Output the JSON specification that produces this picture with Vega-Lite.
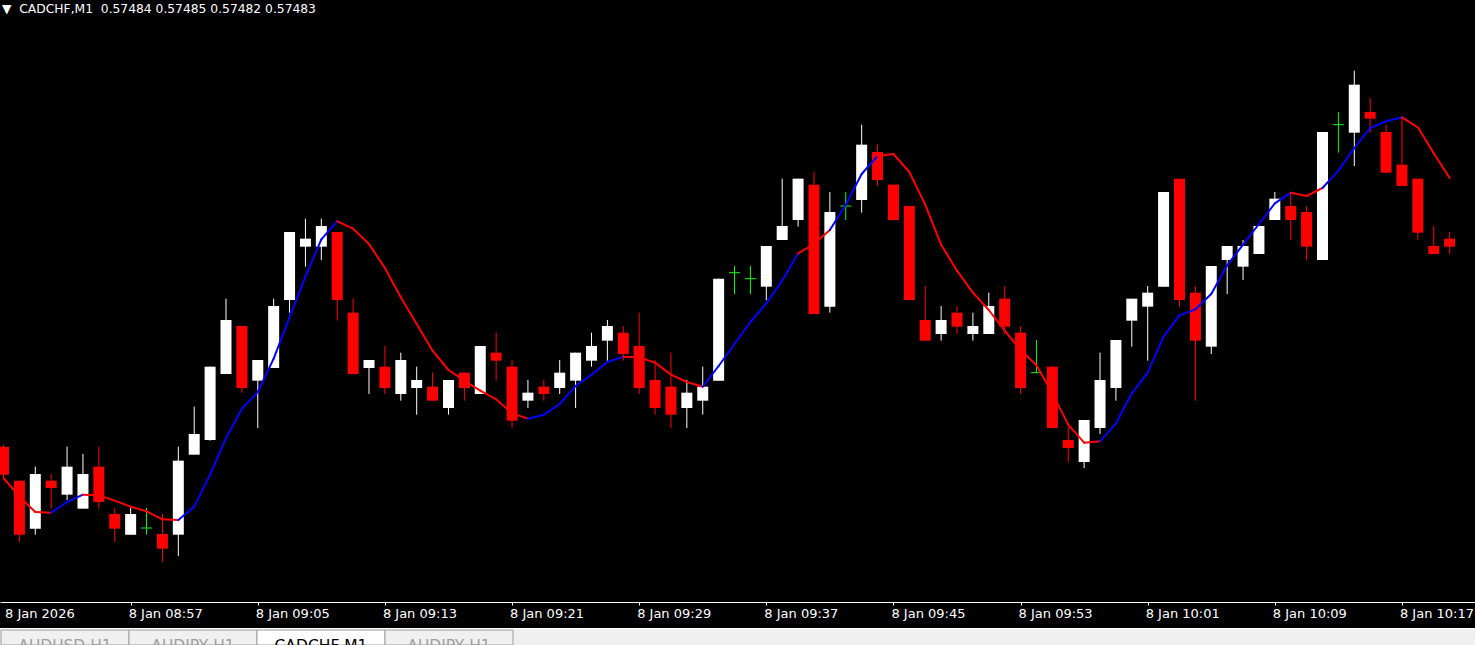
{
  "$schema": "https://vega.github.io/schema/vega-lite/v6.json",
  "autosize": {"type": "pad"},
  "padding": 0,
  "background": "#000000",
  "bounds": "flush",
  "spacing": 26,
  "config": {"view": {"stroke": null}, "font": "DejaVu Sans"},
  "vconcat": [
    {
      "width": 1475,
      "height": 602,
      "title": {
        "text": "▼\u00a0\u00a0CADCHF,M1\u00a0\u00a00.57484 0.57485 0.57482 0.57483",
        "anchor": "start",
        "frame": "group",
        "orient": "top",
        "offset": -13,
        "baseline": "top",
        "dy": 2,
        "dx": 2,
        "font": "DejaVu Sans",
        "fontSize": 12.3,
        "fontWeight": "normal",
        "color": "#ffffff"
      },
      "data": {
        "format": {"parse": {"t": "date"}},
        "values": [
          {"t": "2026-01-08T08:49", "o": 0.574530, "h": 0.574533, "l": 0.574483, "c": 0.574488, "ma": 0.574483, "trend": "down"},
          {"t": "2026-01-08T08:50", "o": 0.574479, "h": 0.574479, "l": 0.574387, "c": 0.574398, "ma": 0.574455, "trend": "down"},
          {"t": "2026-01-08T08:51", "o": 0.574407, "h": 0.574500, "l": 0.574398, "c": 0.574489, "ma": 0.574432, "trend": "down"},
          {"t": "2026-01-08T08:52", "o": 0.574479, "h": 0.574489, "l": 0.574437, "c": 0.574468, "ma": 0.574431, "trend": "down"},
          {"t": "2026-01-08T08:53", "o": 0.574458, "h": 0.574530, "l": 0.574450, "c": 0.574500, "ma": 0.574447, "trend": "up"},
          {"t": "2026-01-08T08:54", "o": 0.574437, "h": 0.574519, "l": 0.574437, "c": 0.574489, "ma": 0.574458, "trend": "up"},
          {"t": "2026-01-08T08:55", "o": 0.574500, "h": 0.574530, "l": 0.574437, "c": 0.574447, "ma": 0.574457, "trend": "down"},
          {"t": "2026-01-08T08:56", "o": 0.574429, "h": 0.574438, "l": 0.574387, "c": 0.574407, "ma": 0.574449, "trend": "down"},
          {"t": "2026-01-08T08:57", "o": 0.574398, "h": 0.574438, "l": 0.574398, "c": 0.574429, "ma": 0.574440, "trend": "down"},
          {"t": "2026-01-08T08:58", "o": 0.574408, "h": 0.574438, "l": 0.574398, "c": 0.574408, "ma": 0.574433, "trend": "down"},
          {"t": "2026-01-08T08:59", "o": 0.574399, "h": 0.574429, "l": 0.574357, "c": 0.574377, "ma": 0.574421, "trend": "down"},
          {"t": "2026-01-08T09:00", "o": 0.574398, "h": 0.574530, "l": 0.574366, "c": 0.574509, "ma": 0.574420, "trend": "down"},
          {"t": "2026-01-08T09:01", "o": 0.574518, "h": 0.574590, "l": 0.574518, "c": 0.574549, "ma": 0.574440, "trend": "up"},
          {"t": "2026-01-08T09:02", "o": 0.574540, "h": 0.574650, "l": 0.574539, "c": 0.574650, "ma": 0.574488, "trend": "up"},
          {"t": "2026-01-08T09:03", "o": 0.574639, "h": 0.574752, "l": 0.574639, "c": 0.574720, "ma": 0.574543, "trend": "up"},
          {"t": "2026-01-08T09:04", "o": 0.574711, "h": 0.574711, "l": 0.574611, "c": 0.574618, "ma": 0.574587, "trend": "up"},
          {"t": "2026-01-08T09:05", "o": 0.574629, "h": 0.574660, "l": 0.574558, "c": 0.574660, "ma": 0.574612, "trend": "up"},
          {"t": "2026-01-08T09:06", "o": 0.574648, "h": 0.574752, "l": 0.574648, "c": 0.574741, "ma": 0.574662, "trend": "up"},
          {"t": "2026-01-08T09:07", "o": 0.574750, "h": 0.574852, "l": 0.574731, "c": 0.574852, "ma": 0.574724, "trend": "up"},
          {"t": "2026-01-08T09:08", "o": 0.574830, "h": 0.574872, "l": 0.574800, "c": 0.574842, "ma": 0.574785, "trend": "up"},
          {"t": "2026-01-08T09:09", "o": 0.574830, "h": 0.574872, "l": 0.574810, "c": 0.574861, "ma": 0.574841, "trend": "up"},
          {"t": "2026-01-08T09:10", "o": 0.574852, "h": 0.574852, "l": 0.574719, "c": 0.574750, "ma": 0.574868, "trend": "up"},
          {"t": "2026-01-08T09:11", "o": 0.574731, "h": 0.574752, "l": 0.574639, "c": 0.574639, "ma": 0.574857, "trend": "down"},
          {"t": "2026-01-08T09:12", "o": 0.574648, "h": 0.574660, "l": 0.574609, "c": 0.574660, "ma": 0.574834, "trend": "down"},
          {"t": "2026-01-08T09:13", "o": 0.574650, "h": 0.574681, "l": 0.574609, "c": 0.574618, "ma": 0.574798, "trend": "down"},
          {"t": "2026-01-08T09:14", "o": 0.574609, "h": 0.574671, "l": 0.574599, "c": 0.574660, "ma": 0.574754, "trend": "down"},
          {"t": "2026-01-08T09:15", "o": 0.574618, "h": 0.574650, "l": 0.574578, "c": 0.574630, "ma": 0.574714, "trend": "down"},
          {"t": "2026-01-08T09:16", "o": 0.574620, "h": 0.574641, "l": 0.574599, "c": 0.574599, "ma": 0.574674, "trend": "down"},
          {"t": "2026-01-08T09:17", "o": 0.574588, "h": 0.574630, "l": 0.574578, "c": 0.574630, "ma": 0.574645, "trend": "down"},
          {"t": "2026-01-08T09:18", "o": 0.574641, "h": 0.574641, "l": 0.574599, "c": 0.574618, "ma": 0.574629, "trend": "down"},
          {"t": "2026-01-08T09:19", "o": 0.574609, "h": 0.574681, "l": 0.574609, "c": 0.574681, "ma": 0.574614, "trend": "down"},
          {"t": "2026-01-08T09:20", "o": 0.574671, "h": 0.574701, "l": 0.574629, "c": 0.574659, "ma": 0.574601, "trend": "down"},
          {"t": "2026-01-08T09:21", "o": 0.574650, "h": 0.574660, "l": 0.574558, "c": 0.574569, "ma": 0.574580, "trend": "down"},
          {"t": "2026-01-08T09:22", "o": 0.574599, "h": 0.574630, "l": 0.574588, "c": 0.574611, "ma": 0.574572, "trend": "down"},
          {"t": "2026-01-08T09:23", "o": 0.574620, "h": 0.574630, "l": 0.574599, "c": 0.574609, "ma": 0.574578, "trend": "up"},
          {"t": "2026-01-08T09:24", "o": 0.574618, "h": 0.574660, "l": 0.574609, "c": 0.574641, "ma": 0.574594, "trend": "up"},
          {"t": "2026-01-08T09:25", "o": 0.574629, "h": 0.574671, "l": 0.574588, "c": 0.574671, "ma": 0.574621, "trend": "up"},
          {"t": "2026-01-08T09:26", "o": 0.574659, "h": 0.574701, "l": 0.574650, "c": 0.574681, "ma": 0.574638, "trend": "up"},
          {"t": "2026-01-08T09:27", "o": 0.574689, "h": 0.574720, "l": 0.574659, "c": 0.574711, "ma": 0.574657, "trend": "up"},
          {"t": "2026-01-08T09:28", "o": 0.574701, "h": 0.574711, "l": 0.574659, "c": 0.574669, "ma": 0.574665, "trend": "up"},
          {"t": "2026-01-08T09:29", "o": 0.574681, "h": 0.574731, "l": 0.574609, "c": 0.574618, "ma": 0.574664, "trend": "down"},
          {"t": "2026-01-08T09:30", "o": 0.574630, "h": 0.574660, "l": 0.574578, "c": 0.574588, "ma": 0.574656, "trend": "down"},
          {"t": "2026-01-08T09:31", "o": 0.574620, "h": 0.574671, "l": 0.574558, "c": 0.574578, "ma": 0.574638, "trend": "down"},
          {"t": "2026-01-08T09:32", "o": 0.574588, "h": 0.574630, "l": 0.574558, "c": 0.574611, "ma": 0.574627, "trend": "down"},
          {"t": "2026-01-08T09:33", "o": 0.574599, "h": 0.574650, "l": 0.574578, "c": 0.574620, "ma": 0.574620, "trend": "down"},
          {"t": "2026-01-08T09:34", "o": 0.574629, "h": 0.574782, "l": 0.574629, "c": 0.574782, "ma": 0.574651, "trend": "up"},
          {"t": "2026-01-08T09:35", "o": 0.574791, "h": 0.574801, "l": 0.574759, "c": 0.574791, "ma": 0.574684, "trend": "up"},
          {"t": "2026-01-08T09:36", "o": 0.574782, "h": 0.574801, "l": 0.574759, "c": 0.574782, "ma": 0.574717, "trend": "up"},
          {"t": "2026-01-08T09:37", "o": 0.574770, "h": 0.574831, "l": 0.574750, "c": 0.574831, "ma": 0.574745, "trend": "up"},
          {"t": "2026-01-08T09:38", "o": 0.574840, "h": 0.574932, "l": 0.574840, "c": 0.574861, "ma": 0.574779, "trend": "up"},
          {"t": "2026-01-08T09:39", "o": 0.574870, "h": 0.574932, "l": 0.574860, "c": 0.574932, "ma": 0.574820, "trend": "up"},
          {"t": "2026-01-08T09:40", "o": 0.574923, "h": 0.574942, "l": 0.574729, "c": 0.574729, "ma": 0.574834, "trend": "down"},
          {"t": "2026-01-08T09:41", "o": 0.574740, "h": 0.574912, "l": 0.574731, "c": 0.574882, "ma": 0.574855, "trend": "down"},
          {"t": "2026-01-08T09:42", "o": 0.574891, "h": 0.574912, "l": 0.574870, "c": 0.574891, "ma": 0.574893, "trend": "up"},
          {"t": "2026-01-08T09:43", "o": 0.574900, "h": 0.575013, "l": 0.574881, "c": 0.574983, "ma": 0.574939, "trend": "up"},
          {"t": "2026-01-08T09:44", "o": 0.574972, "h": 0.574983, "l": 0.574921, "c": 0.574930, "ma": 0.574966, "trend": "up"},
          {"t": "2026-01-08T09:45", "o": 0.574923, "h": 0.574923, "l": 0.574870, "c": 0.574870, "ma": 0.574969, "trend": "down"},
          {"t": "2026-01-08T09:46", "o": 0.574891, "h": 0.574891, "l": 0.574750, "c": 0.574750, "ma": 0.574942, "trend": "down"},
          {"t": "2026-01-08T09:47", "o": 0.574720, "h": 0.574771, "l": 0.574689, "c": 0.574689, "ma": 0.574893, "trend": "down"},
          {"t": "2026-01-08T09:48", "o": 0.574699, "h": 0.574741, "l": 0.574689, "c": 0.574720, "ma": 0.574833, "trend": "down"},
          {"t": "2026-01-08T09:49", "o": 0.574731, "h": 0.574741, "l": 0.574699, "c": 0.574710, "ma": 0.574794, "trend": "down"},
          {"t": "2026-01-08T09:50", "o": 0.574699, "h": 0.574731, "l": 0.574689, "c": 0.574711, "ma": 0.574761, "trend": "down"},
          {"t": "2026-01-08T09:51", "o": 0.574699, "h": 0.574761, "l": 0.574699, "c": 0.574741, "ma": 0.574735, "trend": "down"},
          {"t": "2026-01-08T09:52", "o": 0.574752, "h": 0.574771, "l": 0.574699, "c": 0.574710, "ma": 0.574704, "trend": "down"},
          {"t": "2026-01-08T09:53", "o": 0.574701, "h": 0.574711, "l": 0.574609, "c": 0.574618, "ma": 0.574675, "trend": "down"},
          {"t": "2026-01-08T09:54", "o": 0.574641, "h": 0.574690, "l": 0.574641, "c": 0.574641, "ma": 0.574652, "trend": "down"},
          {"t": "2026-01-08T09:55", "o": 0.574650, "h": 0.574650, "l": 0.574558, "c": 0.574558, "ma": 0.574610, "trend": "down"},
          {"t": "2026-01-08T09:56", "o": 0.574540, "h": 0.574560, "l": 0.574507, "c": 0.574528, "ma": 0.574563, "trend": "down"},
          {"t": "2026-01-08T09:57", "o": 0.574507, "h": 0.574570, "l": 0.574498, "c": 0.574570, "ma": 0.574536, "trend": "down"},
          {"t": "2026-01-08T09:58", "o": 0.574558, "h": 0.574671, "l": 0.574549, "c": 0.574630, "ma": 0.574538, "trend": "down"},
          {"t": "2026-01-08T09:59", "o": 0.574618, "h": 0.574690, "l": 0.574599, "c": 0.574690, "ma": 0.574565, "trend": "up"},
          {"t": "2026-01-08T10:00", "o": 0.574719, "h": 0.574752, "l": 0.574680, "c": 0.574752, "ma": 0.574610, "trend": "up"},
          {"t": "2026-01-08T10:01", "o": 0.574740, "h": 0.574771, "l": 0.574659, "c": 0.574761, "ma": 0.574641, "trend": "up"},
          {"t": "2026-01-08T10:02", "o": 0.574770, "h": 0.574912, "l": 0.574770, "c": 0.574912, "ma": 0.574695, "trend": "up"},
          {"t": "2026-01-08T10:03", "o": 0.574932, "h": 0.574932, "l": 0.574740, "c": 0.574750, "ma": 0.574727, "trend": "up"},
          {"t": "2026-01-08T10:04", "o": 0.574761, "h": 0.574771, "l": 0.574599, "c": 0.574689, "ma": 0.574736, "trend": "up"},
          {"t": "2026-01-08T10:05", "o": 0.574680, "h": 0.574801, "l": 0.574669, "c": 0.574801, "ma": 0.574759, "trend": "up"},
          {"t": "2026-01-08T10:06", "o": 0.574810, "h": 0.574831, "l": 0.574759, "c": 0.574831, "ma": 0.574802, "trend": "up"},
          {"t": "2026-01-08T10:07", "o": 0.574800, "h": 0.574840, "l": 0.574780, "c": 0.574831, "ma": 0.574833, "trend": "up"},
          {"t": "2026-01-08T10:08", "o": 0.574819, "h": 0.574861, "l": 0.574819, "c": 0.574861, "ma": 0.574864, "trend": "up"},
          {"t": "2026-01-08T10:09", "o": 0.574870, "h": 0.574912, "l": 0.574870, "c": 0.574902, "ma": 0.574895, "trend": "up"},
          {"t": "2026-01-08T10:10", "o": 0.574891, "h": 0.574912, "l": 0.574840, "c": 0.574870, "ma": 0.574911, "trend": "up"},
          {"t": "2026-01-08T10:11", "o": 0.574882, "h": 0.574891, "l": 0.574810, "c": 0.574830, "ma": 0.574906, "trend": "down"},
          {"t": "2026-01-08T10:12", "o": 0.574810, "h": 0.575002, "l": 0.574810, "c": 0.575002, "ma": 0.574918, "trend": "down"},
          {"t": "2026-01-08T10:13", "o": 0.575013, "h": 0.575032, "l": 0.574971, "c": 0.575013, "ma": 0.574944, "trend": "up"},
          {"t": "2026-01-08T10:14", "o": 0.575001, "h": 0.575094, "l": 0.574951, "c": 0.575073, "ma": 0.574978, "trend": "up"},
          {"t": "2026-01-08T10:15", "o": 0.575032, "h": 0.575053, "l": 0.575001, "c": 0.575022, "ma": 0.575008, "trend": "up"},
          {"t": "2026-01-08T10:16", "o": 0.575002, "h": 0.575013, "l": 0.574941, "c": 0.574941, "ma": 0.575018, "trend": "up"},
          {"t": "2026-01-08T10:17", "o": 0.574953, "h": 0.575025, "l": 0.574921, "c": 0.574921, "ma": 0.575024, "trend": "up"},
          {"t": "2026-01-08T10:18", "o": 0.574932, "h": 0.574932, "l": 0.574840, "c": 0.574851, "ma": 0.575009, "trend": "down"},
          {"t": "2026-01-08T10:19", "o": 0.574831, "h": 0.574861, "l": 0.574819, "c": 0.574819, "ma": 0.574970, "trend": "down"},
          {"t": "2026-01-08T10:20", "o": 0.574842, "h": 0.574852, "l": 0.574819, "c": 0.574830, "ma": 0.574933, "trend": "down"}
        ]
      },
      "resolve": {"axis": {"x": "independent"}},
      "layer": [
        {
          "mark": {"type": "rule", "strokeWidth": 1, "clip": true},
          "encoding": {
            "x": {
              "field": "t",
              "type": "temporal",
              "title": null,
              "scale": {"domain": [
                {"year": 2026, "month": 1, "date": 8, "hours": 8, "minutes": 49, "seconds": 5, "milliseconds": 625},
                {"year": 2026, "month": 1, "date": 8, "hours": 10, "minutes": 21, "seconds": 16, "milliseconds": 875}
              ]},
              "axis": {
                "orient": "bottom",
                "values": [
                  {"year": 2026, "month": 1, "date": 8, "hours": 8, "minutes": 57},
                  {"year": 2026, "month": 1, "date": 8, "hours": 9, "minutes": 5},
                  {"year": 2026, "month": 1, "date": 8, "hours": 9, "minutes": 13},
                  {"year": 2026, "month": 1, "date": 8, "hours": 9, "minutes": 21},
                  {"year": 2026, "month": 1, "date": 8, "hours": 9, "minutes": 29},
                  {"year": 2026, "month": 1, "date": 8, "hours": 9, "minutes": 37},
                  {"year": 2026, "month": 1, "date": 8, "hours": 9, "minutes": 45},
                  {"year": 2026, "month": 1, "date": 8, "hours": 9, "minutes": 53},
                  {"year": 2026, "month": 1, "date": 8, "hours": 10, "minutes": 1},
                  {"year": 2026, "month": 1, "date": 8, "hours": 10, "minutes": 9},
                  {"year": 2026, "month": 1, "date": 8, "hours": 10, "minutes": 17}
                ],
                "labelExpr": "timeFormat(datum.value, '%-d %b %H:%M')",
                "title": null,
                "grid": false,
                "domainColor": "#ffffff",
                "domainWidth": 1,
                "tickColor": "#ffffff",
                "tickWidth": 1,
                "tickSize": 3,
                "labelColor": "#ffffff",
                "labelFont": "DejaVu Sans",
                "labelFontSize": 13,
                "labelAlign": "left",
                "labelOffset": -2.5,
                "labelPadding": 2,
                "labelFlush": false,
                "labelOverlap": false,
                "labelBound": false
              }
            },
            "y": {"field": "h", "type": "quantitative", "scale": {"domain": [0.574297, 0.5752], "zero": false, "nice": false}, "axis": null},
            "y2": {"field": "l"},
            "color": {"condition": [{"test": "datum.c > datum.o", "value": "#ffffff"}, {"test": "datum.c < datum.o", "value": "#ff0000"}], "value": "#00ff00"}
          }
        },
        {
          "mark": {"type": "bar", "width": 11, "clip": true},
          "encoding": {
            "x": {
              "field": "t",
              "type": "temporal",
              "title": null,
              "scale": {"domain": [
                {"year": 2026, "month": 1, "date": 8, "hours": 8, "minutes": 49, "seconds": 5, "milliseconds": 625},
                {"year": 2026, "month": 1, "date": 8, "hours": 10, "minutes": 21, "seconds": 16, "milliseconds": 875}
              ]},
              "axis": {
                "orient": "bottom",
                "values": [{"year": 2026, "month": 1, "date": 8, "hours": 8, "minutes": 49}],
                "labelExpr": "'8 Jan 2026'",
                "title": null,
                "grid": false,
                "domain": false,
                "ticks": false,
                "labelColor": "#ffffff",
                "labelFont": "DejaVu Sans",
                "labelFontSize": 13,
                "labelAlign": "left",
                "labelOffset": 1,
                "labelPadding": 5,
                "labelFlush": false,
                "labelOverlap": false,
                "labelBound": false
              }
            },
            "y": {"field": "o", "type": "quantitative", "scale": {"domain": [0.574297, 0.5752], "zero": false, "nice": false}, "axis": null},
            "y2": {"field": "c"},
            "color": {"condition": [{"test": "datum.c > datum.o", "value": "#ffffff"}, {"test": "datum.c < datum.o", "value": "#ff0000"}], "value": "#00ff00"}
          }
        },
        {
          "transform": [{"filter": "datum.o == datum.c"}],
          "mark": {"type": "tick", "orient": "horizontal", "size": 11, "thickness": 1, "color": "#00ff00", "opacity": 1, "clip": true},
          "encoding": {
            "x": {"field": "t", "type": "temporal", "title": null, "axis": null, "scale": {"domain": [
              {"year": 2026, "month": 1, "date": 8, "hours": 8, "minutes": 49, "seconds": 5, "milliseconds": 625},
              {"year": 2026, "month": 1, "date": 8, "hours": 10, "minutes": 21, "seconds": 16, "milliseconds": 875}
            ]}},
            "y": {"field": "o", "type": "quantitative", "scale": {"domain": [0.574297, 0.5752], "zero": false, "nice": false}, "axis": null}
          }
        },
        {
          "transform": [
            {"window": [{"op": "lag", "field": "t", "as": "tp"}, {"op": "lag", "field": "ma", "as": "mp"}], "sort": [{"field": "t", "order": "ascending"}]},
            {"filter": "datum.mp != null"}
          ],
          "mark": {"type": "rule", "strokeWidth": 2, "strokeCap": "round", "clip": true},
          "encoding": {
            "x": {"field": "tp", "type": "temporal", "title": null, "axis": null, "scale": {"domain": [
              {"year": 2026, "month": 1, "date": 8, "hours": 8, "minutes": 49, "seconds": 5, "milliseconds": 625},
              {"year": 2026, "month": 1, "date": 8, "hours": 10, "minutes": 21, "seconds": 16, "milliseconds": 875}
            ]}},
            "x2": {"field": "t"},
            "y": {"field": "mp", "type": "quantitative", "scale": {"domain": [0.574297, 0.5752], "zero": false, "nice": false}, "axis": null},
            "y2": {"field": "ma"},
            "color": {"condition": {"test": "datum.trend == 'up'", "value": "#0000ff"}, "value": "#ff0000"}
          }
        }
      ]
    },
    {
      "width": 1475,
      "height": 17,
      "view": {"fill": "#f0f0f0"},
      "data": {"values": [
        {"slot": 1, "tab": "AUDUSD,H1", "active": "no"},
        {"slot": 2, "tab": "AUDJPY,H1", "active": "no"},
        {"slot": 3, "tab": "CADCHF,M1", "active": "yes"},
        {"slot": 4, "tab": "AUDJPY,H1", "active": "no"}
      ]},
      "resolve": {"scale": {"x": "independent"}, "axis": {"x": "independent"}},
      "layer": [
        {
          "mark": {"type": "rect", "yOffset": 2, "stroke": "#a0a0a0", "strokeWidth": 1},
          "encoding": {
            "x": {"field": "slot", "type": "ordinal", "scale": {"range": [1, 513], "paddingInner": 0, "paddingOuter": 0}, "axis": null},
            "color": {"condition": {"test": "datum.active == 'yes'", "value": "#ffffff"}, "value": "#f0f0f0"}
          }
        },
        {
          "mark": {"type": "text", "baseline": "top", "dy": 2.5, "fontSize": 15.5, "font": "DejaVu Sans"},
          "encoding": {
            "x": {"field": "slot", "type": "ordinal", "scale": {"range": [1, 513], "paddingInner": 0, "paddingOuter": 0}, "axis": null},
            "text": {"field": "tab"},
            "color": {"condition": {"test": "datum.active == 'yes'", "value": "#000000"}, "value": "#a0a0a0"}
          }
        },
        {
          "mark": {"type": "point", "opacity": 0},
          "encoding": {
            "x": {
              "field": "slot",
              "type": "quantitative",
              "scale": {"domain": [0, 5], "nice": false, "zero": false},
              "axis": {"orient": "top", "domain": true, "domainColor": "#ffffff", "domainWidth": 1, "ticks": false, "labels": false, "grid": false, "title": null}
            }
          }
        }
      ]
    }
  ]
}
